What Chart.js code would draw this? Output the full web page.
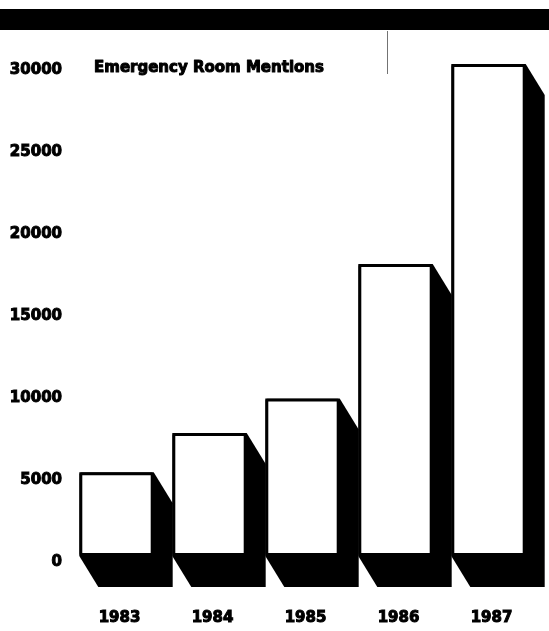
<!DOCTYPE html>
<html>
<head>
<meta charset="utf-8">
<title>Emergency Room Mentions</title>
<script src="https://cdn.jsdelivr.net/npm/chart.js@4.4.1/dist/chart.umd.min.js"></script>
<style>
  html, body { margin: 0; padding: 0; background: #fff; }
  #wrap { width: 549px; height: 631px; position: relative; }
</style>
</head>
<body>
<div id="wrap"><canvas id="chart"></canvas></div>
<script>
// Yearly emergency room mentions
const years = ['1983', '1984', '1985', '1986', '1987'];
const mentions = [5100, 7500, 9600, 17800, 30000];
const titleText = 'Emergency Room Mentions';

// value axis range and tick spacing
const yMin = 0;
const yMax = 30000;
const yStep = 5000;

const FONT = '"DejaVu Sans", sans-serif';
const SHADOW_DX = 19;
const SHADOW_DY = 31;

// Black extruded block behind each bar (down and to the right)
const blockShadow = {
  id: 'blockShadow',
  beforeDatasetsDraw(chart) {
    const ctx = chart.ctx;
    const meta = chart.getDatasetMeta(0);
    ctx.save();
    ctx.fillStyle = '#000';
    meta.data.forEach(bar => {
      const p = bar.getProps(['x', 'y', 'base', 'width'], true);
      const L = p.x - p.width / 2, R = p.x + p.width / 2;
      const T = p.y, B = p.base;
      ctx.beginPath();
      ctx.moveTo(L, T);
      ctx.lineTo(R, T);
      ctx.lineTo(R + SHADOW_DX, T + SHADOW_DY);
      ctx.lineTo(R + SHADOW_DX, B + SHADOW_DY);
      ctx.lineTo(L + SHADOW_DX, B + SHADOW_DY);
      ctx.lineTo(L, B);
      ctx.closePath();
      ctx.fill();
    });
    ctx.restore();
  }
};

// Heavy header band, chart heading and a thin rule mark
const decorations = {
  id: 'decorations',
  beforeDraw(chart) {
    const ctx = chart.ctx;
    ctx.save();
    ctx.fillStyle = '#fff';
    ctx.fillRect(0, 0, chart.width, chart.height);
    ctx.fillStyle = '#000';
    ctx.fillRect(0, 9, chart.width, 21);
    ctx.strokeStyle = 'rgba(0,0,0,0.55)';
    ctx.lineWidth = 1;
    ctx.beginPath();
    ctx.moveTo(387.5, 31);
    ctx.lineTo(387.5, 74);
    ctx.stroke();
    ctx.restore();
  },
  afterDraw(chart) {
    const ctx = chart.ctx;
    ctx.save();
    ctx.fillStyle = '#000';
    ctx.strokeStyle = '#000';
    ctx.lineWidth = 1;
    ctx.lineJoin = 'round';
    ctx.font = 'bold 15px ' + FONT;
    ctx.textAlign = 'left';
    ctx.textBaseline = 'alphabetic';
    ctx.strokeText(titleText, 94, 72);
    ctx.fillText(titleText, 94, 72);
    ctx.restore();
  }
};

new Chart(document.getElementById('chart'), {
  type: 'bar',
  data: {
    labels: years,
    datasets: [{
      data: mentions,
      backgroundColor: '#fff',
      borderColor: '#000',
      borderWidth: 3,
      borderSkipped: false,
      borderRadius: 2,
      categoryPercentage: 1.0,
      barPercentage: 0.8
    }]
  },
  options: {
    responsive: true,
    maintainAspectRatio: false,
    animation: false,
    events: [],
    layout: { padding: { top: 64, right: 14, bottom: 0, left: 0 } },
    plugins: {
      legend: { display: false },
      tooltip: { enabled: false },
      title: { display: false }
    },
    scales: {
      x: {
        grid: { display: false, drawTicks: false },
        border: { display: false },
        ticks: {
          color: '#000',
          font: { family: FONT, size: 15, weight: 'bold' },
          textStrokeColor: '#000',
          textStrokeWidth: 1,
          padding: 53,
          labelOffset: 3,
          maxRotation: 0
        },
        afterFit(axis) {
          axis.height = 75;
          axis.paddingLeft = 0;
          axis.paddingRight = 0;
        }
      },
      y: {
        min: yMin,
        max: yMax,
        grid: { display: false, drawTicks: false },
        border: { display: false },
        ticks: {
          stepSize: yStep,
          color: '#000',
          font: { family: FONT, size: 15, weight: 'bold' },
          textStrokeColor: '#000',
          textStrokeWidth: 1,
          padding: 8,
          labelOffset: 6,
          callback: v => String(v)
        },
        afterFit(axis) {
          axis.width = 70;
          axis.paddingTop = 0;
          axis.paddingBottom = 0;
        }
      }
    }
  },
  plugins: [decorations, blockShadow]
});
</script>
</body>
</html>
